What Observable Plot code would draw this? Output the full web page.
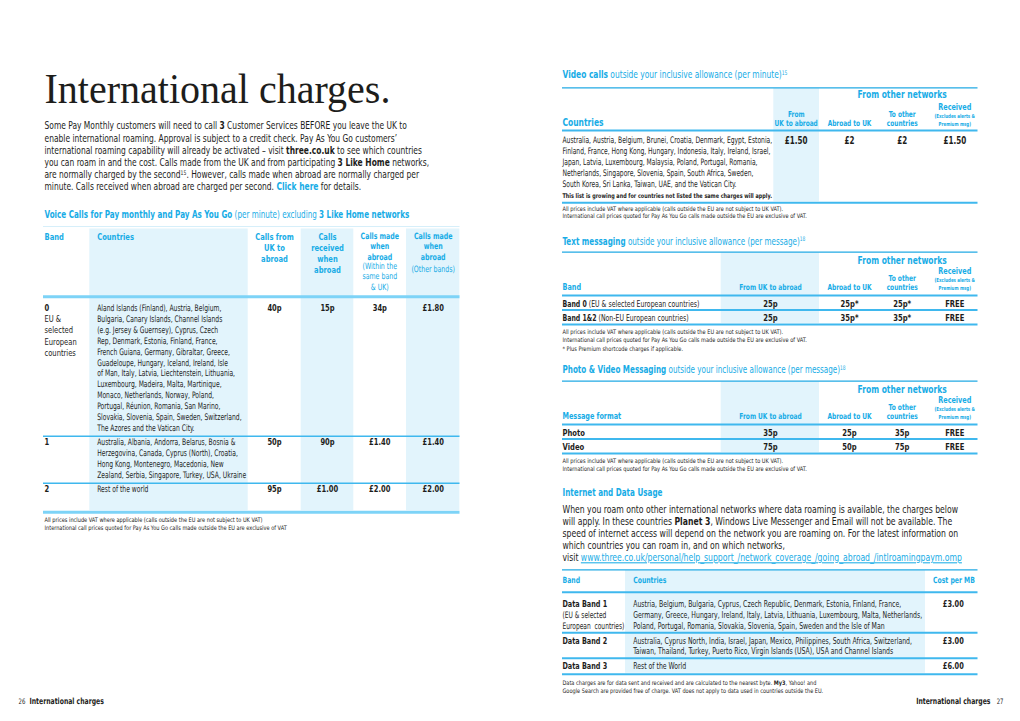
<!DOCTYPE html>
<html>
<head>
<meta charset="utf-8">
<script src="https://cdn.jsdelivr.net/npm/d3@7"></script>
<script src="https://cdn.jsdelivr.net/npm/@observablehq/plot@0.6"></script>
<style>
html,body{margin:0;padding:0;background:#fff;}
#chart{width:1020px;height:721px;}
#chart svg{display:block;}
</style>
</head>
<body>
<div id="chart"></div>
<script>
// ================= DATA =================
const pageTitle = "International charges.";
const introLines = [
  "Some Pay Monthly customers will need to call {b|3} Customer Services BEFORE you leave the UK to",
  "enable international roaming. Approval is subject to a credit check. Pay As You Go customers’",
  "international roaming capability will already be activated – visit {b|three.co.uk} to see which countries",
  "you can roam in and the cost. Calls made from the UK and from participating {b|3 Like Home} networks,",
  "are normally charged by the second{s|15}. However, calls made when abroad are normally charged per",
  "minute. Calls received when abroad are charged per second. {cb|Click here} for details."
];
const voiceTitle = ["Voice Calls for Pay monthly and Pay As You Go", "(per minute) excluding", "3 Like Home networks"];
const voiceHeaderTitles = [["Band"], ["Countries"], ["Calls from", "UK to", "abroad"], ["Calls", "received", "when", "abroad"], ["Calls made", "when", "abroad"], ["Calls made", "when", "abroad"]];
const voiceHeaderNotes = [[], [], [], [], ["(Within the", "same band", "& UK)"], ["(Other bands)"]];
const voiceBands = [["0", "EU &", "selected", "European", "countries"], ["1"], ["2"]];
const voiceCountries = [
  ["Aland Islands (Finland), Austria, Belgium,",
   "Bulgaria, Canary Islands, Channel Islands",
   "(e.g. Jersey & Guernsey), Cyprus, Czech",
   "Rep, Denmark, Estonia, Finland, France,",
   "French Guiana, Germany, Gibraltar, Greece,",
   "Guadeloupe, Hungary, Iceland, Ireland, Isle",
   "of Man, Italy, Latvia, Liechtenstein, Lithuania,",
   "Luxembourg, Madeira, Malta, Martinique,",
   "Monaco, Netherlands, Norway, Poland,",
   "Portugal, Réunion, Romania, San Marino,",
   "Slovakia, Slovenia, Spain, Sweden, Switzerland,",
   "The Azores and the Vatican City."],
  ["Australia, Albania, Andorra, Belarus, Bosnia &",
   "Herzegovina, Canada, Cyprus (North), Croatia,",
   "Hong Kong, Montenegro, Macedonia, New",
   "Zealand, Serbia, Singapore, Turkey, USA, Ukraine"],
  ["Rest of the world"]
];
const voiceFromUK = ["40p", "50p", "95p"];
const voiceReceived = ["15p", "90p", "£1.00"];
const voiceSameBand = ["34p", "£1.40", "£2.00"];
const voiceOtherBands = ["£1.80", "£1.40", "£2.00"];
const voiceNotes = [
  "All prices include VAT where applicable (calls outside the EU are not subject to UK VAT)",
  "International call prices quoted for Pay As You Go calls made outside the EU are exclusive of VAT"
];

const networkGroup = "From other networks";
const receivedLabel = ["Received", "(Excludes alerts &", "Premium msg)"];
const vatNotes = [
  "All prices include VAT where applicable (calls outside the EU are not subject to UK VAT).",
  "International call prices quoted for Pay As You Go calls made outside the EU are exclusive of VAT."
];

const videoTitle = ["Video calls", "outside your inclusive allowance (per minute)", "15"];
const videoHeaders = [["Countries"], ["From", "UK to abroad"], ["Abroad to UK"], ["To other", "countries"]];
const videoCountries = [
  "Australia, Austria, Belgium, Brunei, Croatia, Denmark, Egypt, Estonia,",
  "Finland, France, Hong Kong, Hungary, Indonesia, Italy, Ireland, Israel,",
  "Japan, Latvia, Luxembourg, Malaysia, Poland, Portugal, Romania,",
  "Netherlands, Singapore, Slovenia, Spain, South Africa, Sweden,",
  "South Korea, Sri Lanka, Taiwan, UAE, and the Vatican City."
];
const videoListNote = "This list is growing and for countries not listed the same charges will apply.";
const videoPrices = ["£1.50", "£2", "£2", "£1.50"];

const textTitle = ["Text messaging", "outside your inclusive allowance (per message)", "18"];
const textHeaders = [["Band"], ["From UK to abroad"], ["Abroad to UK"], ["To other", "countries"]];
const textBands = ["Band 0", "Band 1&2"];
const textBandNotes = ["(EU & selected European countries)", "(Non-EU European countries)"];
const textFromUK = ["25p", "25p"];
const textAbroadToUK = ["25p*", "35p*"];
const textToOther = ["25p*", "35p*"];
const textReceived = ["FREE", "FREE"];
const textExtraNote = "* Plus Premium shortcode charges if applicable.";

const photoTitle = ["Photo & Video Messaging", "outside your inclusive allowance (per message)", "18"];
const photoHeaders = [["Message format"], ["From UK to abroad"], ["Abroad to UK"], ["To other", "countries"]];
const photoFormats = ["Photo", "Video"];
const photoFromUK = ["35p", "75p"];
const photoAbroadToUK = ["25p", "50p"];
const photoToOther = ["35p", "75p"];
const photoReceived = ["FREE", "FREE"];

const internetTitle = "Internet and Data Usage";
const internetLines = [
  "When you roam onto other international networks where data roaming is available, the charges below",
  "will apply. In these countries {b|Planet 3}, Windows Live Messenger and Email will not be available. The",
  "speed of internet access will depend on the network you are roaming on. For the latest information on",
  "which countries you can roam in, and on which networks,",
  "visit {u|www.three.co.uk/personal/help_support_/network_coverage_/going_abroad_/intlroamingpaym.omp}"
];
const dataHeaders = ["Band", "Countries", "Cost per MB"];
const dataBands = [["Data Band 1", "(EU & selected", "European  countries)"], ["Data Band 2"], ["Data Band 3"]];
const dataCountries = [
  ["Austria, Belgium, Bulgaria, Cyprus, Czech Republic, Denmark, Estonia, Finland, France,",
   "Germany, Greece, Hungary, Ireland, Italy, Latvia, Lithuania, Luxembourg, Malta, Netherlands,",
   "Poland, Portugal, Romania, Slovakia, Slovenia, Spain, Sweden and the Isle of Man"],
  ["Australia, Cyprus North, India, Israel, Japan, Mexico, Philippines, South Africa, Switzerland,",
   "Taiwan, Thailand, Turkey, Puerto Rico, Virgin Islands (USA), USA and Channel Islands"],
  ["Rest of the World"]
];
const dataCost = ["£3.00", "£3.00", "£6.00"];
const dataNotes = [
  "Data charges are for data sent and received and are calculated to the nearest byte. {b|My3}, Yahoo! and",
  "Google Search are provided free of charge. VAT does not apply to data used in countries outside the EU."
];
const footerLeft = ["26", "International charges"];
const footerRight = ["International charges", "27"];

// ================= STYLE =================
const INK = "#1d1d1b";
const BLUE = "#17ace6";
const RULE_DARK = "#22aae4";
const RULE_MID = "#3fb8ee";
const RULE_LIGHT = "#7dd3f7";
const FILL = "#e2f4fc";
const FAINT = "#d6effa";
const SANS = "'Liberation Sans Narrow','Arial Narrow','DejaVu Sans Condensed','Roboto',sans-serif";
const SERIF = "'Liberation Serif','DejaVu Serif',serif";
const SQUEEZE = 0.8; // horizontal condensing of texts that are not fitted as a block
// target widths (px) of the widest line of each text block
const FIT = {
  title: 346, intro: 385, voiceHead: 365, voiceCountries: 149, voiceNotes: 243,
  videoHead: 225, videoCountries: 210, videoListNote: 210, vatNotes: 244,
  textHead: 243, textRows: 137, photoHead: 283, internetHead: 100, internet: 400,
  dataCountries: 289, dataNotes: 261, dataBands: 62
};

// ================= LAYOUT =================
const T = [], R = [], F = [];
function txt(x, y, text, o = {}) {
  T.push({x, y, text, size: o.size ?? 10, weight: o.weight ?? "normal", fill: o.fill ?? INK,
          anchor: o.anchor ?? "start", family: o.family ?? SANS, fit: o.fit ?? ""});
}
function lines(x, y0, lh, arr, o) { arr.forEach((t, i) => txt(x, y0 + i * lh, t, o)); return y0 + (arr.length - 1) * lh; }
function rule(x1, x2, y, stroke, sw) { R.push({x1, x2, y, stroke, sw}); }
function box(x1, x2, y1, y2, fill = FILL) { F.push({x1, x2, y1, y2, fill}); }
const heading = t => `{b|${t[0]}} ${t[1]}{s|${t[2]}}`;

// ---- left page ----
const LX = 44, LX2 = 459.5;
txt(LX, 89.5, pageTitle, {size: 42, family: SERIF, fit: "title"});
lines(LX, 125.6, 12.15, introLines, {size: 10.3, fit: "intro"});
txt(LX, 214, `{b|${voiceTitle[0]}} ${voiceTitle[1]} {b|${voiceTitle[2]}}`, {size: 10.3, fill: BLUE, fit: "voiceHead"});

const VT = {
  top: 226, headY: 236, headRule: 296.3,
  textX: [LX, 96.7], valueX: [274, 327, 379.3, 432.7],
  fillCols: [[89.3, 247.7], [300.7, 353.3], [406, 459.3]],
  headLH: [11, 11, 11.1, 11, 10.2, 10.2], headSize: [9.4, 9.4, 9.4, 9.4, 8.7, 8.7],
  noteGap: [0, 0, 0, 0, 9.6, 12.5], noteLH: 10.2, noteSize: 8.7,
  countryLH: 10.9, bandLH: 11.1, firstPad: 11.4, rowPad: 6.2, bottomPad: 8.1, minRow: 29
};
rule(43, LX2, VT.top, FAINT, 1);
voiceHeaderTitles.forEach((h, i) => {
  const x = i < 2 ? VT.textX[i] : VT.valueX[i - 2];
  const anchor = i < 2 ? "start" : "middle";
  const last = lines(x, VT.headY, VT.headLH[i], h, {size: VT.headSize[i], weight: "bold", fill: BLUE, anchor});
  lines(x, last + VT.noteGap[i], VT.noteLH, voiceHeaderNotes[i], {size: VT.noteSize, fill: BLUE, anchor});
});
rule(43, LX2, VT.headRule, RULE_LIGHT, 3);
let vy = VT.headRule;
const voiceVals = [voiceFromUK, voiceReceived, voiceSameBand, voiceOtherBands];
voiceCountries.forEach((cl, i) => {
  const start = vy + (i === 0 ? VT.firstPad : VT.rowPad);
  txt(LX, start, voiceBands[i][0], {size: 9.4, weight: "bold"});
  lines(LX, start + VT.bandLH, VT.bandLH, voiceBands[i].slice(1), {size: 9.4});
  const last = lines(VT.textX[1], start, VT.countryLH, cl, {size: 9, fit: "voiceCountries"});
  voiceVals.forEach((col, j) => txt(VT.valueX[j], start, col[i], {size: 9.4, weight: "bold", anchor: "middle"}));
  const bottom = Math.max(last + VT.bottomPad, vy + VT.minRow);
  const isLast = i === voiceCountries.length - 1;
  rule(43, LX2, bottom, isLast ? RULE_LIGHT : RULE_MID, isLast ? 3 : 1.5);
  vy = bottom;
});
VT.fillCols.forEach(([a, b]) => box(a, b, VT.top + 2.5, vy - 1.5));
lines(LX, vy + 7.3, 8.7, voiceNotes, {size: 6.3, fit: "voiceNotes"});

// footers
txt(18, 701, footerLeft[0], {size: 7.5});
txt(29, 701, footerLeft[1], {size: 8.5, weight: "bold"});
txt(990, 701, footerRight[0], {size: 8.5, weight: "bold", anchor: "end"});
txt(1003, 701, footerRight[1], {size: 7.5, anchor: "end"});

// ---- right page ----
const RX = 562, RX2 = 977.5;
const COL = {abroad: 849, other: 901.7, recv: 954.3};
function receivedHeader(bottom) {
  txt(COL.recv, bottom - 16.5, receivedLabel[0], {size: 9, weight: "bold", fill: BLUE, anchor: "middle"});
  txt(COL.recv, bottom - 7.3, receivedLabel[1], {size: 5.5, weight: "bold", fill: BLUE, anchor: "middle"});
  txt(COL.recv, bottom + 0.8, receivedLabel[2], {size: 5.5, weight: "bold", fill: BLUE, anchor: "middle"});
}
function stackUp(x, bottom, lh, arr, o) { lines(x, bottom - (arr.length - 1) * lh, lh, arr, o); }

// Video calls
{
  const head = 74, top = 87.3, hb = 123, hr = 130, fromX = 795.7;
  txt(RX, head, heading(videoTitle), {size: 10.3, fill: BLUE, fit: "videoHead"});
  rule(RX, RX2, top, RULE_DARK, 1.3);
  txt(COL.other, top + 7, networkGroup, {size: 10.5, weight: "bold", fill: BLUE, anchor: "middle"});
  txt(RX, hb - 0.7, videoHeaders[0][0], {size: 10.5, weight: "bold", fill: BLUE});
  [fromX, COL.abroad, COL.other].forEach((x, j) =>
    stackUp(x, hb, 9.4, videoHeaders[j + 1], {size: 8.1, weight: "bold", fill: BLUE, anchor: "middle"}));
  receivedHeader(hb);
  rule(RX, RX2, hr, RULE_MID, 2);
  const last = lines(RX, hr + 10, 10.8, videoCountries, {size: 9, fit: "videoCountries"});
  const noteY = last + 11.8;
  txt(RX, noteY, videoListNote, {size: 6.5, weight: "bold", fit: "videoListNote"});
  [fromX, COL.abroad, COL.other, COL.recv].forEach((x, j) =>
    txt(x, hr + 10, videoPrices[j], {size: 10, weight: "bold", anchor: "middle"}));
  const bottom = noteY + 7.3;
  rule(RX, RX2, bottom, RULE_MID, 2);
  box(773.3, 819, top + 0.7, bottom - 1);
  lines(RX, bottom + 6, 7.6, vatNotes, {size: 6.2, fit: "vatNotes"});
}

// Text & photo message tables
function msgTable(head, title, fitKey, headers, rowLabels, cols, notes) {
  const fromX = 770;
  const top = head + 11, hb = top + 35.3, hr = hb + 8, step = 14.3;
  txt(RX, head, heading(title), {size: 10.3, fill: BLUE, fit: fitKey});
  rule(RX, RX2, top, RULE_DARK, 1.3);
  txt(COL.other, top + 8.6, networkGroup, {size: 10.5, weight: "bold", fill: BLUE, anchor: "middle"});
  txt(RX, hb, headers[0][0], {size: 9, weight: "bold", fill: BLUE});
  [fromX, COL.abroad, COL.other].forEach((x, j) =>
    stackUp(x, hb, 9.6, headers[j + 1], {size: 8.2, weight: "bold", fill: BLUE, anchor: "middle"}));
  receivedHeader(hb);
  rule(RX, RX2, hr, RULE_MID, 2);
  let bottom = hr;
  rowLabels.forEach((lab, i) => {
    const y = hr + 8 + i * step;
    txt(RX, y, lab.text, {size: 9.5, weight: lab.bold ? "bold" : "normal", fit: lab.fit});
    [fromX, COL.abroad, COL.other, COL.recv].forEach((x, j) =>
      txt(x, y, cols[j][i], {size: 9.5, weight: "bold", anchor: "middle"}));
    bottom = y + 6.6;
    rule(RX, RX2, bottom, RULE_MID, 2);
  });
  box(720.7, 819, top + 0.7, bottom - 1);
  lines(RX, bottom + 7.5, 8.5, notes, {size: 6.2, fit: "vatNotes"});
}
msgTable(240.7, textTitle, "textHead", textHeaders,
  textBands.map((b, i) => ({text: `{b|${b}} ${textBandNotes[i]}`, bold: false, fit: "textRows"})),
  [textFromUK, textAbroadToUK, textToOther, textReceived], [...vatNotes, textExtraNote]);
msgTable(369.7, photoTitle, "photoHead", photoHeaders,
  photoFormats.map(p => ({text: p, bold: true, fit: ""})),
  [photoFromUK, photoAbroadToUK, photoToOther, photoReceived], vatNotes);

// Internet & data
{
  txt(RX, 492.7, internetTitle, {size: 10.3, weight: "bold", fill: BLUE, fit: "internetHead"});
  lines(RX, 509, 12.1, internetLines, {size: 10.3, fit: "internet"});
  const top = 569.3, headY = 579.3, hr = 591.7, countriesX = 632.7, costX = 963.3, lh = 10.6;
  rule(RX, RX2, top, RULE_DARK, 1.3);
  txt(RX, headY, dataHeaders[0], {size: 8.5, weight: "bold", fill: BLUE});
  txt(countriesX, headY, dataHeaders[1], {size: 8.5, weight: "bold", fill: BLUE});
  txt(974.3, headY, dataHeaders[2], {size: 8.5, weight: "bold", fill: BLUE, anchor: "end"});
  rule(RX, RX2, hr, RULE_MID, 2);
  let y = hr + 12.3, bottom = hr;
  dataCountries.forEach((cl, i) => {
    txt(RX, y, dataBands[i][0], {size: 9, weight: "bold"});
    lines(RX, y + lh, lh, dataBands[i].slice(1), {size: 9, fit: "dataBands"});
    const last = lines(countriesX, y, lh, cl, {size: 9, fit: "dataCountries"});
    txt(costX, y, dataCost[i], {size: 9.2, weight: "bold", anchor: "end"});
    const nLast = Math.max(last, y + (dataBands[i].length - 1) * lh);
    bottom = nLast + (i === dataCountries.length - 1 ? 8 : 7);
    rule(RX, RX2, bottom, RULE_MID, 2);
    y = bottom + 8;
  });
  box(625, 925, top + 0.7, bottom - 1);
  lines(RX, bottom + 8.7, 8, dataNotes, {size: 6.2, fit: "dataNotes"});
}

// ================= PLOT =================
const textMarks = d3.groups(T, d => [d.anchor, d.weight, d.family].join("|")).map(([, data]) => {
  const d0 = data[0];
  return Plot.text(data, {
    x: "x", y: "y", text: "text", fontSize: d => d.size, fill: d => d.fill,
    textAnchor: d0.anchor, fontWeight: d0.weight, fontFamily: d0.family, lineAnchor: "middle",
    ariaLabel: d => "fit:" + d.fit
  });
});

const chart = Plot.plot({
  width: 1020, height: 721, margin: 0,
  x: {type: "linear", domain: [0, 1020], range: [0, 1020], axis: null},
  y: {type: "linear", domain: [0, 721], range: [0, 721], axis: null},
  color: {type: "identity"},
  style: {background: "#fff", overflow: "visible"},
  marks: [
    Plot.rect(F, {x1: "x1", x2: "x2", y1: "y1", y2: "y2", fill: d => d.fill}),
    Plot.ruleY(R, {y: "y", x1: "x1", x2: "x2", stroke: d => d.stroke, strokeWidth: d => d.sw}),
    ...textMarks
  ]
});
document.getElementById("chart").appendChild(chart);

// rich text: {flags|text} → tspans
function parseMarkup(str) {
  const re = /\{([a-z]+)\|([^}]*)\}/g, segs = [];
  let last = 0, m;
  while ((m = re.exec(str))) {
    if (m.index > last) segs.push({t: str.slice(last, m.index), f: ""});
    segs.push({t: m[2], f: m[1]});
    last = re.lastIndex;
  }
  if (last < str.length) segs.push({t: str.slice(last), f: ""});
  return segs;
}
const allTexts = Array.from(chart.querySelectorAll("text"));
allTexts.forEach(t => {
  const s = t.textContent;
  if (!s.includes("{")) return;
  const fs = parseFloat(getComputedStyle(t).fontSize) || 10;
  t.textContent = "";
  for (const seg of parseMarkup(s)) {
    const ts = document.createElementNS("http://www.w3.org/2000/svg", "tspan");
    ts.textContent = seg.t;
    const f = seg.f;
    if (f.includes("b")) ts.setAttribute("font-weight", "bold");
    if (f.includes("n")) ts.setAttribute("font-weight", "normal");
    if (f.includes("c")) ts.setAttribute("fill", BLUE);
    if (f.includes("s")) { ts.setAttribute("baseline-shift", "super"); ts.setAttribute("font-size", fs * 0.6); }
    if (f.includes("u")) { ts.setAttribute("text-decoration", "underline"); ts.setAttribute("fill", BLUE); }
    t.appendChild(ts);
  }
});

// condense texts horizontally about their anchor: blocks are fitted to the width they
// occupy on the page, the rest get a fixed squeeze
const byFit = d3.group(allTexts, t => (t.getAttribute("aria-label") || "fit:").slice(4));
for (const [key, texts] of byFit) {
  const widths = texts.map(t => t.getComputedTextLength());
  const k = FIT[key] ? Math.max(0.5, Math.min(1.25, FIT[key] / d3.max(widths))) : SQUEEZE;
  texts.forEach(t => {
    const xa = t.getAttribute("x");
    const x0 = xa ? parseFloat(xa) || 0 : 0;
    const prev = t.getAttribute("transform") || "";
    t.setAttribute("transform", `${prev} translate(${x0},0) scale(${k.toFixed(4)},1) translate(${-x0},0)`.trim());
  });
}
</script>
</body>
</html>
